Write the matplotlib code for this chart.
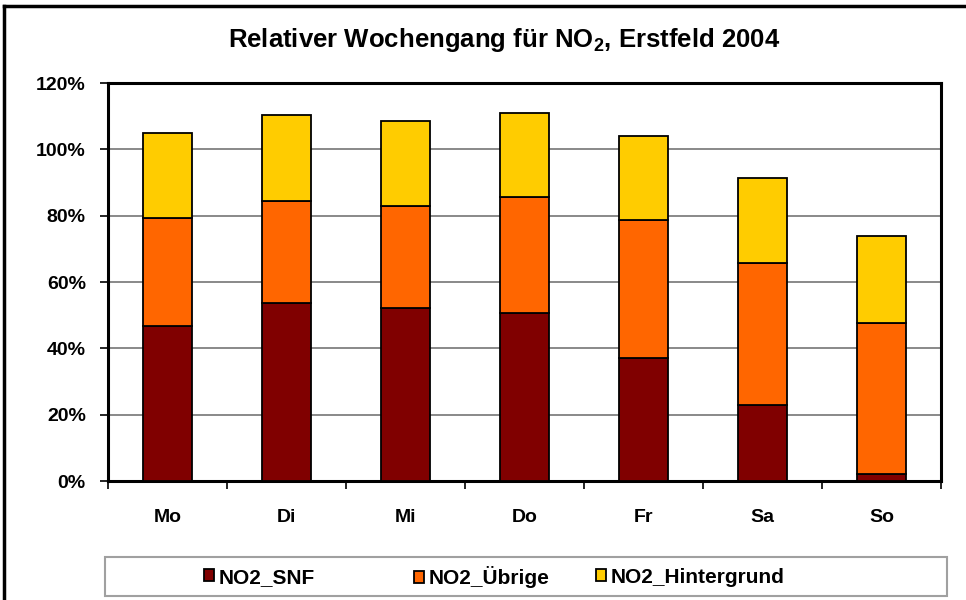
import matplotlib

matplotlib.use("Agg")
import matplotlib.pyplot as plt
from matplotlib.lines import Line2D
from matplotlib.patches import Rectangle
from matplotlib.ticker import FuncFormatter
import numpy as np

plt.rcParams["font.family"] = ["Liberation Sans", "DejaVu Sans"]
plt.rcParams["mathtext.fontset"] = "custom"
plt.rcParams["mathtext.bf"] = "Liberation Sans:bold"
plt.rcParams["mathtext.rm"] = "Liberation Sans:bold"

days = ["Mo", "Di", "Mi", "Do", "Fr", "Sa", "So"]
# cumulative tops (percent), converted to segment heights below
snf = [46.8, 53.7, 52.2, 50.7, 37.0, 22.8, 2.1]
uebrige_top = [79.2, 84.5, 83.0, 85.5, 78.7, 65.8, 47.6]
total_top = [104.8, 110.5, 108.5, 110.9, 104.1, 91.3, 73.8]

uebrige = [u - s for u, s in zip(uebrige_top, snf)]
hintergrund = [t - u for t, u in zip(total_top, uebrige_top)]

series = [
    ("NO2_SNF", snf, "#800000"),
    ("NO2_Übrige", uebrige, "#FF6600"),
    ("NO2_Hintergrund", hintergrund, "#FFCC00"),
]

fig = plt.figure(figsize=(9.66, 6.0), dpi=100)
ax = fig.add_axes([0.1118, 0.1983, 0.8623, 0.6633])

x = np.arange(len(days))
bottom = np.zeros(len(days))
handles = []
for label, vals, color in series:
    b = ax.bar(x, vals, width=0.41, bottom=bottom, color=color, edgecolor="black",
               lw=1.3, label=label, zorder=3)
    bottom += np.array(vals)
    handles.append(b)

ax.set_xlim(-0.5, len(days) - 0.5)
ax.set_ylim(0, 120)
ax.set_yticks(np.arange(0, 121, 20))
ax.yaxis.set_major_formatter(FuncFormatter(lambda v, _: f"{v:.0f}%"))
ax.grid(axis="y", color="#808080", lw=1.3, zorder=0)

# category labels centered, tick marks between categories
ax.set_xticks(x)
ax.set_xticklabels(days, fontsize=14, fontweight="bold")
ax.tick_params(axis="x", which="major", length=0, pad=20)
ax.set_xticks(np.arange(-0.5, len(days), 1), minor=True)
ax.tick_params(axis="x", which="minor", length=6, width=1.2, direction="out")
ax.tick_params(axis="y", length=6, width=1.2, direction="out", pad=10)
for lbl in ax.get_yticklabels():
    lbl.set_fontsize(14)
    lbl.set_fontweight("bold")

for sp in ax.spines.values():
    sp.set_linewidth(2.2)
    sp.set_color("black")

fig.text(0.522, 0.933, r"Relativer Wochengang für NO$_\mathbf{2}$, Erstfeld 2004",
         ha="center", va="center", fontsize=18.5, fontweight="bold")

# legend box
fig.patches.append(Rectangle((105 / 966, 1 - 596 / 600), 842 / 966, 39 / 600,
                             transform=fig.transFigure, fill=False,
                             edgecolor="#a0a0a0", lw=1.5))
legend_x = [204, 414, 596]
for h, (label, _, _), lx in zip(handles, series, legend_x):
    fig.legend(handles=[h], labels=[label], loc="center left",
               bbox_to_anchor=(lx / 966, 0.038), frameon=False, borderpad=0,
               borderaxespad=0, prop={"weight": "bold", "size": 15},
               handlelength=0.5, handleheight=0.5, handletextpad=0.2)

# outer chart frame (top and left visible)
fig.add_artist(Line2D([4 / 966, 4 / 966], [0, 1 - 6 / 600], transform=fig.transFigure,
                      color="black", lw=2.5))
fig.add_artist(Line2D([4 / 966, 1], [1 - 6 / 600, 1 - 6 / 600], transform=fig.transFigure,
                      color="black", lw=2.5))

fig.savefig("out.png", dpi=100)
plt.close(fig)
